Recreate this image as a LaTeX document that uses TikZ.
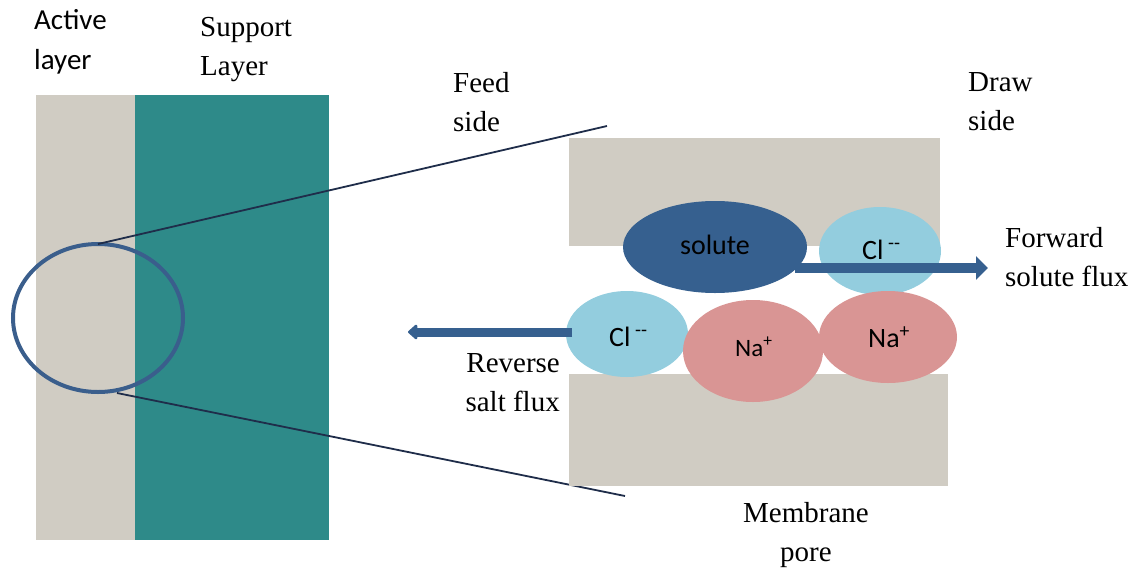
\documentclass[tikz,border=0pt]{standalone}
\usepackage{fontspec}
\setmainfont{Liberation Serif}
\newfontfamily\calfont{Carlito}
\usetikzlibrary{arrows.meta}
\definecolor{wall}{HTML}{D0CCC3}
\definecolor{tealc}{HTML}{2E8A89}
\definecolor{navy}{HTML}{36608F}
\definecolor{ring}{HTML}{3A5E8C}
\definecolor{lineclr}{HTML}{1F2D4A}
\definecolor{cl}{HTML}{93CDDE}
\definecolor{na}{HTML}{D99594}
\tikzset{
  lbl/.style={font=\fontsize{29}{39}\selectfont, align=left, inner sep=0pt},
  slbl/.style={font=\calfont\fontsize{29}{40}\selectfont, align=left, inner sep=0pt},
  ionlbl/.style={font=\calfont\fontsize{28}{30}\selectfont, inner sep=0pt, anchor=base west},
  flux/.style={draw=navy, line width=10pt},
  zoomline/.style={draw=lineclr, line width=1.8pt}
}
\begin{document}
\begin{tikzpicture}[x=1pt,y=-1pt]
\useasboundingbox (0,0) rectangle (1142,568);
% layers
\fill[wall] (36,95) rectangle (135,540);
\fill[tealc] (135,95) rectangle (329,540);
\draw[ring, line width=4pt] (98,318) ellipse [x radius=85, y radius=74];
\coordinate (ct) at (98,244);
\coordinate (cb) at (117,393);
\coordinate (zt) at (607,126);
\coordinate (zb) at (625,496);
\draw[zoomline] (ct) -- (zt);
\draw[zoomline] (cb) -- (zb);
% pore walls
\fill[wall] (569,138) rectangle (940,246);
\fill[wall] (569,374) rectangle (948,486);
% ions
\fill[navy] (715,247) ellipse [x radius=92, y radius=46];
\node[font=\calfont\fontsize{28}{30}\selectfont, inner sep=0pt, anchor=base] (sol) at (715,254) {solute};
\fill[cl] (880,251) ellipse [x radius=61, y radius=44];
\node[ionlbl] (cl1) at (862,259) {Cl\,\textsuperscript{-{}-}};
\fill[cl] (627,334) ellipse [x radius=61, y radius=43];
\node[ionlbl] (cl2) at (609,346) {Cl\,\textsuperscript{-{}-}};
\fill[na] (753,351) ellipse [x radius=70, y radius=51];
\node[ionlbl, font=\calfont\fontsize{25}{30}\selectfont] (na1) at (735,356) {Na\textsuperscript{+}};
\fill[na] (888,337) ellipse [x radius=69, y radius=46];
\node[ionlbl] (na2) at (868,347) {Na\textsuperscript{+}};
% arrows
\coordinate (fs) at (795,268);
\coordinate (fe) at (988,268);
\draw[flux, -{Triangle[length=12pt,width=23pt]}] (fs) -- (fe);
\coordinate (rs) at (572,332);
\coordinate (re) at (408,332);
\draw[flux, line width=9pt, -{Triangle[length=10pt,width=17pt,round]}] (rs) -- (re);
% labels
\node[slbl, anchor=north west] (act) at (34,9) {Active\\layer};
\node[lbl, anchor=north west] (sup) at (200,17) {Support\\Layer};
\node[lbl, anchor=north west] (feed) at (453,72) {Feed\\side};
\node[lbl, anchor=north west] (draw) at (968,72) {Draw\\side};
\node[lbl, anchor=north west] (fwd) at (1005,227) {Forward\\solute flux};
\node[lbl, anchor=north east, align=right] (rev) at (560,353) {Reverse\\salt flux};
\node[lbl, anchor=north, align=center] (mem) at (806,502) {Membrane\\pore};
\end{tikzpicture}
\end{document}
